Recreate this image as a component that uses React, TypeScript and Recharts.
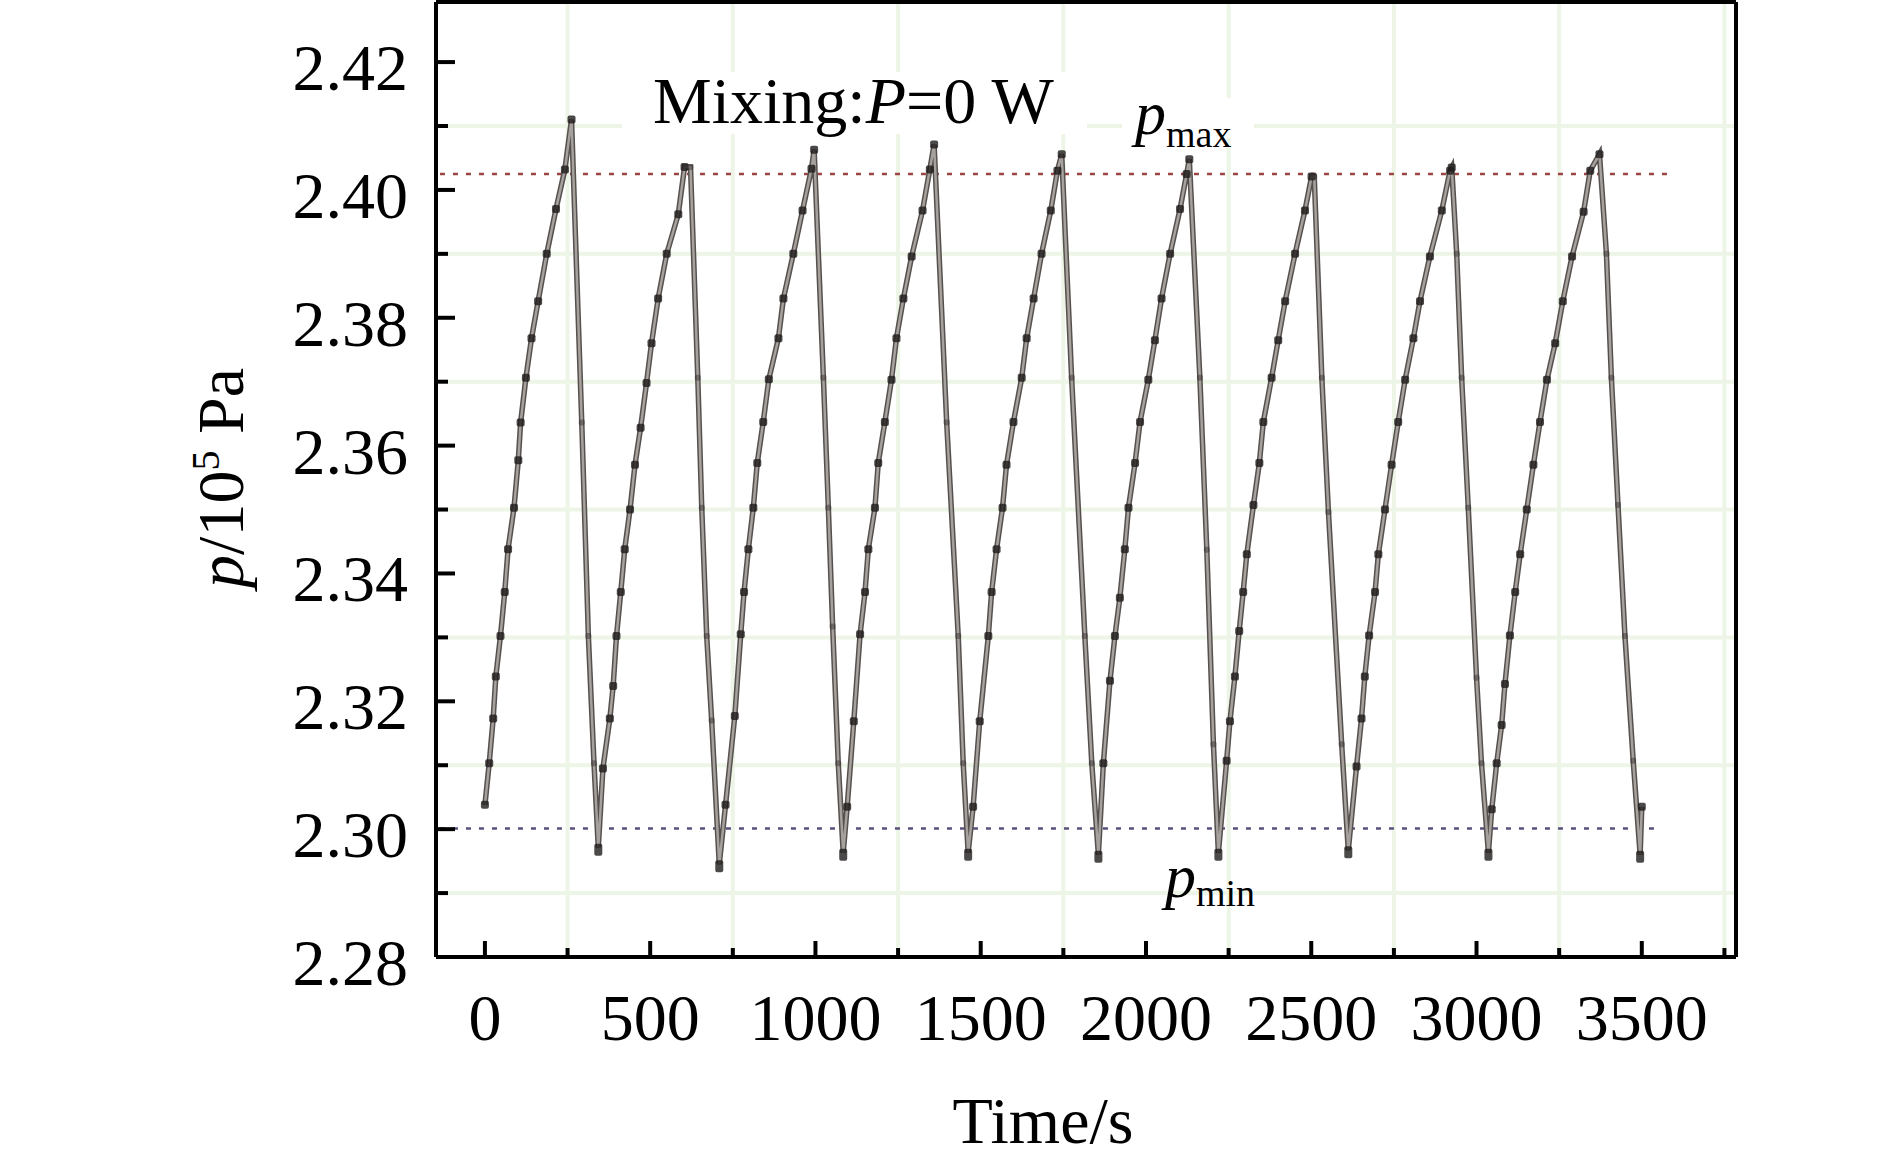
import React from 'react';
import { LineChart, Line, XAxis, YAxis, CartesianGrid, ReferenceLine } from 'recharts';

// pressure record, read cycle by cycle (time in s, pressure in 10^5 Pa)
const timeS = [
  0, 13, 25, 33, 47, 60, 70, 88, 101, 108, 124, 141, 161, 187, 215, 242, 262, 293, 313, 330, 343,
  357, 378, 388, 398, 411, 423, 439, 454, 471, 489, 504, 524, 550, 585, 604, 622, 644, 656, 671, 686, 709,
  728, 756, 774, 784, 797, 812, 824, 842, 859, 888, 903, 933, 961, 988, 996, 1024, 1039, 1052, 1069, 1084,
  1096, 1116, 1135, 1150, 1160, 1180, 1190, 1210, 1230, 1245, 1266, 1291, 1324, 1346, 1359, 1397, 1432, 1447, 1462,
  1477, 1497, 1523, 1533, 1548, 1566, 1578, 1599, 1624, 1639, 1660, 1684, 1712, 1732, 1745, 1775, 1815, 1836, 1856,
  1871, 1891, 1906, 1921, 1936, 1947, 1967, 1982, 2007, 2027, 2047, 2073, 2103, 2123, 2131, 2163, 2184, 2204, 2219,
  2244, 2254, 2269, 2282, 2294, 2305, 2325, 2343, 2355, 2380, 2400, 2421, 2451, 2481, 2501, 2509, 2532, 2552, 2592, 2612,
  2637, 2652, 2662, 2675, 2693, 2703, 2723, 2743, 2763, 2784, 2809, 2829, 2859, 2895, 2920, 2925, 2940, 2955, 2975, 3000, 3015, 3036,
  3046, 3061, 3076, 3086, 3101, 3117, 3132, 3152, 3172, 3192, 3213, 3238, 3261, 3289, 3324, 3344, 3372, 3393, 3408, 3428, 3449, 3474, 3495, 3500,
];

const pressure = [
  2.3038, 2.3103, 2.3173, 2.3239, 2.3302, 2.3371, 2.3438, 2.3503, 2.3577, 2.3636, 2.3706, 2.3768, 2.3826, 2.39, 2.397, 2.4032, 2.411, 2.3636, 2.3302, 2.3103, 2.2971,
  2.3095, 2.3173, 2.3224, 2.3302, 2.3371, 2.3438, 2.35, 2.357, 2.3628, 2.3698, 2.376, 2.383, 2.39, 2.3962, 2.4036, 2.4036, 2.3706, 2.3503, 2.3302, 2.317, 2.2945,
  2.3038, 2.3177, 2.3305, 2.3371, 2.3438, 2.3503, 2.3573, 2.3637, 2.3704, 2.3768, 2.383, 2.39, 2.3968, 2.4033, 2.4063, 2.3706, 2.3503, 2.3317, 2.3103, 2.2963,
  2.3035, 2.3169, 2.3305, 2.3371, 2.3438, 2.3503, 2.3573, 2.3637, 2.3703, 2.3768, 2.383, 2.3896, 2.3968, 2.4032, 2.4071, 2.3636, 2.3302, 2.3103, 2.2963,
  2.3035, 2.3169, 2.3302, 2.3371, 2.3438, 2.3503, 2.357, 2.3637, 2.3706, 2.3768, 2.383, 2.39, 2.3968, 2.403, 2.4056, 2.3706, 2.3302, 2.3103, 2.296,
  2.3103, 2.3232, 2.3302, 2.3362, 2.3438, 2.3503, 2.3573, 2.3637, 2.3703, 2.3765, 2.383, 2.39, 2.397, 2.4025, 2.4048, 2.3706, 2.3437, 2.3133, 2.2963,
  2.3107, 2.3169, 2.3239, 2.331, 2.3371, 2.343, 2.3507, 2.3573, 2.3637, 2.3706, 2.3765, 2.3826, 2.39, 2.3968, 2.4021, 2.4021, 2.3706, 2.3496, 2.3133, 2.2967,
  2.3098, 2.3173, 2.3239, 2.3303, 2.3371, 2.343, 2.35, 2.357, 2.3637, 2.3703, 2.3768, 2.3826, 2.3896, 2.3968, 2.403, 2.4035, 2.39, 2.3706, 2.3503, 2.3237, 2.3103, 2.2963,
  2.3031, 2.3103, 2.3163, 2.3227, 2.3303, 2.3371, 2.343, 2.35, 2.357, 2.3637, 2.3703, 2.376, 2.3826, 2.3896, 2.3966, 2.403, 2.4056, 2.39, 2.3706, 2.3507, 2.3302, 2.3107, 2.296, 2.3035,
];

const xTicks = [0, 250, 500, 750, 1000, 1250, 1500, 1750, 2000, 2250, 2500, 2750, 3000, 3250, 3500, 3750];
const yTicks = [2.28, 2.29, 2.3, 2.31, 2.32, 2.33, 2.34, 2.35, 2.36, 2.37, 2.38, 2.39, 2.4, 2.41, 2.42];
const gridX = [250, 750, 1250, 1750, 2250, 2750, 3250, 3750];
const gridY = [2.29, 2.31, 2.33, 2.35, 2.37, 2.39, 2.41];

const xDomain = [-148, 3785];
const yDomain = [2.28, 2.4294];

const pMax = 2.4025;
const pMin = 2.3001;
const pMaxSpan = [-136, 3577];
const pMinSpan = [-136, 3556];

const chartData = timeS.map((t, i) => ({ t, p: pressure[i] }));

const FONT = "'Times New Roman', 'Liberation Serif', serif";
const AXIS = { stroke: '#000', strokeWidth: 4 };

const XTick = (props: any) => {
  const { x, y, payload } = props;
  const major = payload.value % 500 === 0;
  return (
    <g>
      <line x1={x} x2={x} y1={y} y2={y - (major ? 16 : 9)} stroke="#000" strokeWidth={4} />
      {major && (
        <text x={x} y={y + 83} textAnchor="middle" fontSize={66} fontFamily={FONT} fill="#000">
          {payload.value}
        </text>
      )}
    </g>
  );
};

const YTick = (props: any) => {
  const { x, y, payload } = props;
  const major = Math.round(payload.value * 100) % 2 === 0;
  return (
    <g>
      <line x1={x} x2={x + (major ? 19 : 12)} y1={y} y2={y} stroke="#000" strokeWidth={4} />
      {major && (
        <text x={x - 28} y={y + 28} textAnchor="end" fontSize={66} fontFamily={FONT} fill="#000">
          {payload.value.toFixed(2)}
        </text>
      )}
    </g>
  );
};

// dark blobs where the trace sits on a step
const StepMark = (props: any) => {
  const { cx, cy, index } = props;
  if (cx == null || cy == null) return <g key={`m${index}`} />;
  const prev = index > 0 ? pressure[index - 1] : 0;
  const rising = pressure[index] > prev;
  const low = pressure[index] < 2.3;
  if (rising || low) {
    return <rect key={`m${index}`} x={cx - 4} y={cy - 4} width={8} height={low ? 12 : 8} rx={2} fill="#1f1b1b" opacity={0.8} />;
  }
  return <rect key={`m${index}`} x={cx - 3} y={cy - 3} width={6} height={6} rx={2} fill="#3a3535" opacity={0.5} />;
};

const App = () => {
  return (
    <div style={{ position: 'absolute', left: 0, top: 0, width: 1890, height: 1160, background: '#fff' }}>
      <LineChart width={1890} height={1160} data={chartData} margin={{ top: 2, right: 154, bottom: 0, left: 0 }}>
        <CartesianGrid horizontalValues={gridY} verticalValues={gridX} stroke="#edf5e7" strokeWidth={4} />
        <XAxis
          dataKey="t"
          type="number"
          domain={xDomain}
          ticks={xTicks}
          interval={0}
          height={203}
          tickSize={0}
          tickMargin={0}
          tickLine={false}
          tick={<XTick />}
          axisLine={AXIS}
          allowDataOverflow
        />
        <YAxis
          type="number"
          domain={yDomain}
          ticks={yTicks}
          interval={0}
          width={436}
          tickSize={0}
          tickMargin={0}
          tickLine={false}
          tick={<YTick />}
          axisLine={AXIS}
          allowDataOverflow
        />
        {/* frame: top and right edges */}
        <ReferenceLine y={yDomain[1]} stroke="#000" strokeWidth={4} />
        <ReferenceLine x={xDomain[1]} stroke="#000" strokeWidth={4} />
        <ReferenceLine
          segment={[{ x: pMaxSpan[0], y: pMax }, { x: pMaxSpan[1], y: pMax }]}
          stroke="#9b4545"
          strokeWidth={2.5}
          strokeDasharray="5 8"
        />
        <ReferenceLine
          segment={[{ x: pMinSpan[0], y: pMin }, { x: pMinSpan[1], y: pMin }]}
          stroke="#5b4f7d"
          strokeWidth={2.5}
          strokeDasharray="5 8"
        />
        <Line dataKey="p" type="linear" stroke="#56514e" strokeWidth={5.5} dot={false} activeDot={false} isAnimationActive={false} />
        <Line dataKey="p" type="linear" stroke="#a6a19d" strokeWidth={2.5} dot={StepMark} activeDot={false} isAnimationActive={false} />
      </LineChart>
      <svg width={1890} height={1160} style={{ position: 'absolute', left: 0, top: 0, pointerEvents: 'none' }} fontFamily={FONT}>
        <rect x={622} y={72} width={465} height={62} fill="#fff" />
        <rect x={1122} y={98} width={132} height={40} fill="#fff" />
        <text x={653} y={123} fontSize={66} fill="#000">
          Mixing:<tspan fontStyle="italic">P</tspan>=0 W
        </text>
        <text x={1135} y={134} fontSize={62} fill="#000">
          <tspan fontStyle="italic">p</tspan>
          <tspan fontSize={38} dy={13}>max</tspan>
        </text>
        <text x={1165} y={897} fontSize={62} fill="#000">
          <tspan fontStyle="italic">p</tspan>
          <tspan fontSize={38} dy={9}>min</tspan>
        </text>
        <text x={1043} y={1143} fontSize={66} textAnchor="middle" fill="#000">
          Time/s
        </text>
        <text x={243} y={478} fontSize={66} textAnchor="middle" fill="#000" transform="rotate(-90 243 478)">
          <tspan fontStyle="italic">p</tspan>/10<tspan fontSize={40} dy={-24}>5</tspan>
          <tspan dy={24}> Pa</tspan>
        </text>
      </svg>
    </div>
  );
};

export default App;
